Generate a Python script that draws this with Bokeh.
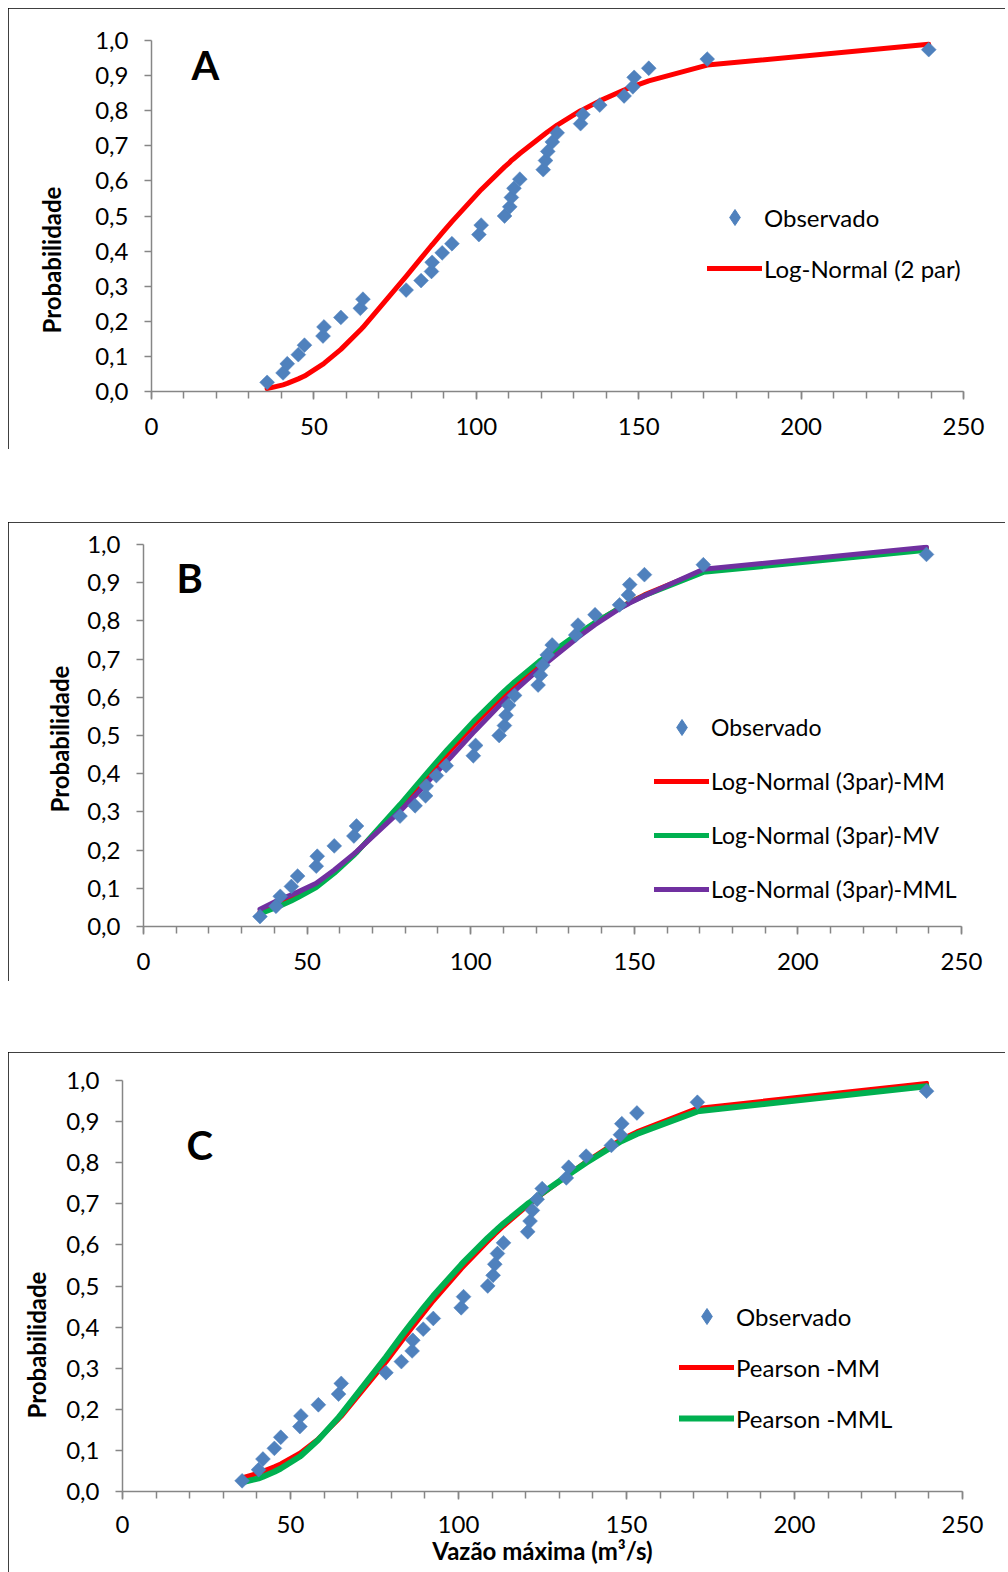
import math
from bokeh.plotting import figure
from bokeh.models import (ColumnDataSource, Legend, LegendItem, Label, FixedTicker,
                          Range1d, Spacer, Title)
from bokeh.layouts import column, row
from bokeh.embed import file_html
from bokeh.resources import INLINE

# ---------------- data ----------------
vazao = [35.6, 40.5, 41.8, 45.2, 47.1, 52.8, 53.1, 58.3, 64.3, 65.1,
         78.4, 83.0, 86.2, 86.4, 89.5, 92.5, 100.8, 101.5, 108.7, 110.3,
         110.8, 111.6, 113.4, 120.6, 121.3, 122.0, 123.4, 124.9, 132.1, 132.8,
         138.0, 145.5, 148.2, 148.6, 153.1, 171.1, 239.3]

prob_obs = [0.026, 0.053, 0.079, 0.105, 0.132, 0.158, 0.184, 0.211, 0.237, 0.263,
            0.289, 0.316, 0.342, 0.368, 0.395, 0.421, 0.447, 0.474, 0.500, 0.526,
            0.553, 0.579, 0.605, 0.632, 0.658, 0.684, 0.711, 0.737, 0.763, 0.789,
            0.816, 0.842, 0.868, 0.895, 0.921, 0.947, 0.974]

lognormal_2par = [0.008, 0.019, 0.023, 0.036, 0.044, 0.078, 0.080, 0.120, 0.175, 0.183,
                  0.328, 0.380, 0.416, 0.418, 0.452, 0.484, 0.568, 0.575, 0.640, 0.653,
                  0.658, 0.664, 0.678, 0.730, 0.735, 0.740, 0.749, 0.759, 0.800, 0.803,
                  0.828, 0.859, 0.869, 0.870, 0.885, 0.930, 0.989]

lognormal_3par_mm = [0.038, 0.055, 0.060, 0.073, 0.081, 0.107, 0.109, 0.143, 0.188, 0.194,
                     0.314, 0.357, 0.388, 0.390, 0.420, 0.449, 0.526, 0.532, 0.594, 0.607,
                     0.611, 0.618, 0.632, 0.685, 0.690, 0.694, 0.704, 0.714, 0.760, 0.764,
                     0.795, 0.834, 0.847, 0.849, 0.868, 0.932, 0.990]

lognormal_3par_mv = [0.033, 0.049, 0.054, 0.067, 0.075, 0.102, 0.104, 0.139, 0.186, 0.193,
                     0.320, 0.366, 0.398, 0.400, 0.431, 0.460, 0.537, 0.543, 0.604, 0.617,
                     0.621, 0.627, 0.641, 0.692, 0.697, 0.701, 0.710, 0.719, 0.763, 0.767,
                     0.796, 0.834, 0.846, 0.848, 0.866, 0.927, 0.985]

lognormal_3par_mml = [0.045, 0.066, 0.071, 0.083, 0.090, 0.113, 0.115, 0.148, 0.190, 0.196,
                      0.302, 0.342, 0.372, 0.374, 0.403, 0.430, 0.508, 0.514, 0.578, 0.592,
                      0.596, 0.603, 0.617, 0.672, 0.677, 0.682, 0.692, 0.702, 0.752, 0.757,
                      0.790, 0.832, 0.845, 0.847, 0.866, 0.935, 0.993]

pearson_mm = [0.033, 0.045, 0.049, 0.060, 0.067, 0.093, 0.095, 0.128, 0.176, 0.183,
              0.315, 0.365, 0.399, 0.401, 0.433, 0.464, 0.542, 0.548, 0.609, 0.622,
              0.626, 0.632, 0.646, 0.696, 0.701, 0.705, 0.714, 0.724, 0.767, 0.771,
              0.802, 0.842, 0.855, 0.857, 0.875, 0.932, 0.993]

pearson_mml = [0.022, 0.032, 0.036, 0.048, 0.056, 0.085, 0.087, 0.126, 0.180, 0.188,
               0.327, 0.378, 0.412, 0.414, 0.446, 0.476, 0.552, 0.558, 0.617, 0.629,
               0.633, 0.639, 0.652, 0.700, 0.704, 0.708, 0.717, 0.726, 0.767, 0.771,
               0.800, 0.838, 0.851, 0.853, 0.870, 0.925, 0.986]

y_ticks = [0.0, 0.1, 0.2, 0.3, 0.4, 0.5, 0.6, 0.7, 0.8, 0.9, 1.0]
y_tick_labels = ["0,0", "0,1", "0,2", "0,3", "0,4", "0,5", "0,6", "0,7", "0,8", "0,9", "1,0"]
x_ticks = [0, 50, 100, 150, 200, 250]
x_minor_ticks = [0, 10, 20, 30, 40, 50, 60, 70, 80, 90, 100, 110, 120, 130, 140, 150,
                 160, 170, 180, 190, 200, 210, 220, 230, 240, 250]

FONT = "Lato"
OBS_COLOR = "#4F81BD"
AXIS_COLOR = "#868686"


def make_panel(height, bl, br, bt, bb, letter, letter_xy, ylab_offset, ylab_standoff,
               curves, legend_xy, legend_spacing, legend_font, x_standoff, x_title=None):
    p = figure(width=997, height=height, output_backend="svg", toolbar_location=None,
               x_range=Range1d(0, 250), y_range=Range1d(0, 1.0),
               min_border_left=bl, min_border_right=br, min_border_top=bt,
               min_border_bottom=bb)
    p.styles = {"outline": "1.5px solid #000000", "outline-offset": "-1.5px"}
    p.outline_line_color = None
    p.xgrid.visible = False
    p.ygrid.visible = False
    p.background_fill_color = "white"
    p.border_fill_color = "white"

    src = ColumnDataSource(dict(x=vazao, y=prob_obs,
                                **{f"c{i}": c for i, (_, c, _, _) in enumerate(curves)}))

    items = []
    line_items = []
    for i, (name, _, color, lw) in enumerate(curves):
        r = p.line("x", f"c{i}", source=src, line_color=color, line_width=lw,
                   line_cap="round", line_join="round")
        line_items.append(LegendItem(label=name, renderers=[r]))

    p.scatter("x", "y", source=src, marker="square", angle=math.pi / 4, size=10.5,
              fill_color=OBS_COLOR, line_color=OBS_COLOR, line_width=0.5)
    leg_r = p.scatter("x", "y", source=src, marker="diamond", size=14,
                      fill_color=OBS_COLOR, line_color=OBS_COLOR, visible=False)
    items.append(LegendItem(label="Observado", renderers=[leg_r]))
    items.extend(line_items)

    legend = Legend(items=items, location=legend_xy, orientation="vertical",
                    glyph_width=55, glyph_height=40, label_height=40,
                    label_standoff=2, spacing=legend_spacing, padding=0, margin=0,
                    border_line_color=None, background_fill_alpha=0.0,
                    label_text_font=FONT, label_text_font_size=legend_font,
                    label_text_color="#000000")
    p.add_layout(legend, "center")

    # x axis
    xa = p.xaxis[0]
    xa.ticker = FixedTicker(ticks=x_ticks, minor_ticks=x_minor_ticks)
    xa.axis_line_color = AXIS_COLOR
    xa.axis_line_width = 1.5
    xa.major_tick_line_color = AXIS_COLOR
    xa.minor_tick_line_color = AXIS_COLOR
    xa.major_tick_line_width = 1.5
    xa.minor_tick_line_width = 1.5
    xa.major_tick_out = 8
    xa.major_tick_in = 0
    xa.minor_tick_out = 7
    xa.minor_tick_in = 0
    xa.major_label_text_font = FONT
    xa.major_label_text_font_size = "24px"
    xa.major_label_text_color = "#000000"
    xa.major_label_standoff = x_standoff
    if x_title:
        xa.axis_label = x_title
        xa.axis_label_text_font = FONT
        xa.axis_label_text_font_style = "bold"
        xa.axis_label_text_font_size = "24px"
        xa.axis_label_text_color = "#000000"
        xa.axis_label_standoff = 0

    # y axis
    ya = p.yaxis[0]
    ya.ticker = FixedTicker(ticks=y_ticks, minor_ticks=[])
    ya.major_label_overrides = {t: s for t, s in zip(y_ticks, y_tick_labels)}
    ya.axis_line_color = AXIS_COLOR
    ya.axis_line_width = 1.5
    ya.major_tick_line_color = AXIS_COLOR
    ya.major_tick_line_width = 1.5
    ya.major_tick_out = 7
    ya.major_tick_in = 0
    ya.minor_tick_line_color = None
    ya.major_label_text_font = FONT
    ya.major_label_text_font_size = "24px"
    ya.major_label_text_color = "#000000"
    ya.major_label_standoff = 16

    p.add_layout(Title(text="Probabilidade", align="left", offset=ylab_offset,
                       vertical_align="middle", standoff=ylab_standoff,
                       text_font=FONT, text_font_style="bold", text_font_size="24px",
                       text_color="#000000"), "left")

    p.add_layout(Label(x=letter_xy[0], y=letter_xy[1], text=letter, text_font=FONT,
                       text_font_style="bold", text_font_size="40px",
                       text_align="center", text_baseline="middle",
                       text_color="#000000"))
    return p


pA = make_panel(441, 143, 42, 32, 58, "A", (16.6, 0.929), 58, 52,
                [("Log-Normal (2 par)", lognormal_2par, "#FF0000", 5)],
                (556, 103), 11, "24px", 18)

pB = make_panel(459, 135, 44, 22, 55, "B", (14.1, 0.911), 114, 20,
                [("Log-Normal (3par)-MM", lognormal_3par_mm, "#FF0000", 5),
                 ("Log-Normal (3par)-MV", lognormal_3par_mv, "#00B050", 5),
                 ("Log-Normal (3par)-MML", lognormal_3par_mml, "#7030A0", 5)],
                (511, 17), 14, "23px", 18)

pC = make_panel(520, 114, 43, 28, 81, "C", (23.0, 0.842), 73, 23,
                [("Pearson -MM", pearson_mm, "#FF0000", 5),
                 ("Pearson -MML", pearson_mml, "#00B050", 6)],
                (557, 53), 11, "24px", 16, x_title="Vazão máxima (m³/s)")

rootA = column(Spacer(height=8), row(Spacer(width=8), pA))
rootB = column(Spacer(height=73), row(Spacer(width=8), pB))
rootC = column(Spacer(height=71), row(Spacer(width=8), pC))

open("out.html", "w").write(file_html([rootA, rootB, rootC], INLINE))
